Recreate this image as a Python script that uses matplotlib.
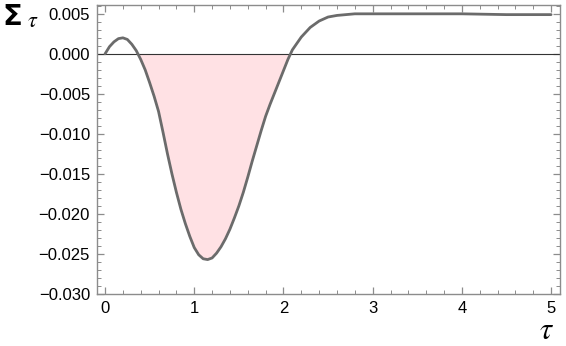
import numpy as np
import matplotlib
matplotlib.use("Agg")
import matplotlib.pyplot as plt
from matplotlib.ticker import MultipleLocator

# values
tau = [0.0, 0.05, 0.1, 0.15, 0.2, 0.25, 0.3, 0.35, 0.4, 0.45, 0.5, 0.55,
       0.6, 0.65, 0.7, 0.75, 0.8, 0.85, 0.9, 0.95, 1.0, 1.05, 1.1, 1.15,
       1.2, 1.25, 1.3, 1.35, 1.4, 1.45, 1.5, 1.55, 1.6, 1.65, 1.7, 1.75,
       1.8, 1.85, 1.9, 1.95, 2.0, 2.05, 2.1, 2.15, 2.2, 2.3, 2.4, 2.5,
       2.6, 2.7, 2.8, 3.0, 3.5, 4.0, 4.5, 5.0]
sigma = [0.0000, 0.0009, 0.0015, 0.0019, 0.0020, 0.0018, 0.0012, 0.0004,
         -0.0007, -0.0020, -0.0036, -0.0053, -0.0072, -0.0098, -0.0125,
         -0.0150, -0.0173, -0.0194, -0.0212, -0.0228, -0.0242, -0.0251,
         -0.0256, -0.0257, -0.0255, -0.0249, -0.0241, -0.0231, -0.0219,
         -0.0205, -0.0190, -0.0173, -0.0154, -0.0134, -0.0115, -0.0096,
         -0.0078, -0.0063, -0.0049, -0.0035, -0.0021, -0.0007, 0.0005,
         0.0013, 0.0021, 0.0033, 0.0041, 0.0046, 0.0048, 0.0049, 0.0050,
         0.0050, 0.0050, 0.0050, 0.0049, 0.0049]

plt.rcParams["font.family"] = ["Liberation Sans", "DejaVu Sans"]
plt.rcParams["mathtext.fontset"] = "stix"

x = np.array(tau)
y = np.array(sigma)

fig = plt.figure(figsize=(5.66, 3.46), dpi=100)
ax = fig.add_axes([0.1714, 0.1503, 0.818, 0.8352])

ax.fill_between(x, y, 0, where=y < 0, interpolate=True,
                color="#ffe1e4", linewidth=0)
ax.axhline(0, color="#333333", linewidth=0.8)
ax.plot(x, y, color="#6b6b6b", linewidth=2.0, solid_capstyle="round",
        solid_joinstyle="round")

ax.set_xlim(-0.09, 5.1)
ax.set_ylim(-0.030, 0.0061)

ax.xaxis.set_major_locator(MultipleLocator(1))
ax.xaxis.set_minor_locator(MultipleLocator(0.2))
ax.yaxis.set_major_locator(MultipleLocator(0.005))
ax.yaxis.set_minor_locator(MultipleLocator(0.001))
ax.yaxis.set_major_formatter(plt.FuncFormatter(
    lambda v, p: f"{v:.3f}".replace("-", "\u2212") if abs(v) > 1e-9 else "0.000"))

for s in ax.spines.values():
    s.set_color("#8c8c8c")
    s.set_linewidth(1.0)

ax.tick_params(which="both", direction="in", top=True, right=True,
               color="#8c8c8c", labelsize=12, pad=5)
ax.tick_params(which="major", length=5, width=0.9)
ax.tick_params(which="minor", length=3, width=0.7)

# axis labels placed like the reference (top-left and bottom-right)
fig.text(0.004, 0.928, "\u03a3", fontsize=21, fontweight="bold",
         family="DejaVu Sans", ha="left", va="baseline")
fig.text(0.047, 0.922, r"$\tau$", fontsize=16, ha="left", va="baseline")
fig.text(0.966, 0.0, r"$\tau$", fontsize=22, ha="center", va="bottom")

fig.savefig("out.png", dpi=100)
